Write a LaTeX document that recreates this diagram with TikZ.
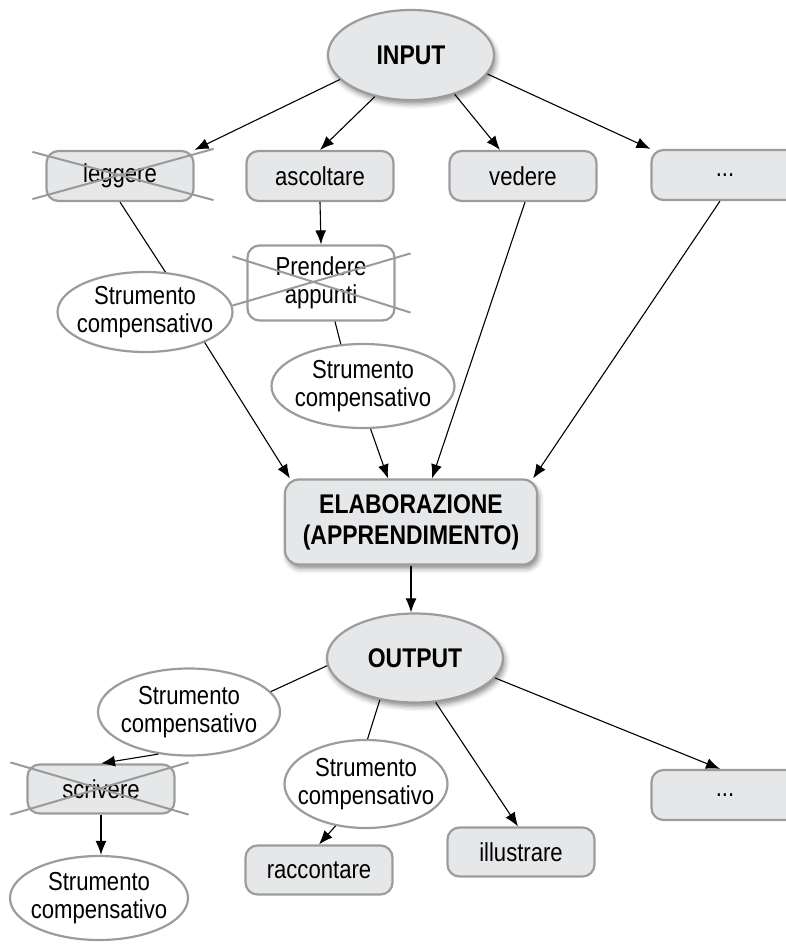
\documentclass[tikz,border=0pt]{standalone}
\usepackage{fontspec}
\setmainfont{Liberation Sans}[FakeStretch=0.85]
\usetikzlibrary{shapes.geometric,arrows.meta,shadows.blur,calc}
\definecolor{boxfill}{HTML}{E6E7E9}
\definecolor{boxline}{HTML}{9C9C9C}
\definecolor{crossgray}{HTML}{9A9A9A}

\begin{document}
\begin{tikzpicture}[x=1pt,y=-1pt,
  every node/.style={font=\fontsize{26}{28}\selectfont, align=center, inner sep=0pt},
  boxnode/.style={rectangle, rounded corners=12pt, draw=boxline, line width=2.2pt,
    fill=boxfill, minimum width=147pt, minimum height=50pt},
  toolnode/.style={ellipse, draw=boxline, line width=2.2pt, fill=white,
    inner xsep=-30pt, inner ysep=-6pt},
  bignode/.style={font=\fontsize{27}{31}\selectfont\bfseries,
    blur shadow={shadow xshift=2pt, shadow yshift=-4pt, shadow blur radius=5pt, shadow opacity=45}},
  link/.style={draw=black, line width=1.1pt},
  arrow/.style={link, -{Latex[length=14pt,width=11pt]}},
  strike/.style={draw=crossgray, line width=2pt},
]
\clip (0,0) rectangle (786,944);

% input side
\node[bignode, ellipse, draw=boxline, line width=2.2pt, fill=boxfill,
  minimum width=166pt, minimum height=90pt] (input) at (411,55) {INPUT};
\node[boxnode] (leggere) at (120,176) {leggere};
\node[boxnode] (ascoltare) at (320,176) {ascoltare};
\node[boxnode] (vedere) at (523,176) {vedere};
\node[boxnode] (dotsA) at (725,175) {...};
\node[boxnode, fill=white, minimum height=75pt] (prendere) at (321,283) {Prendere\\appunti};
\node[toolnode, minimum width=175pt, minimum height=80pt] (toolA) at (145,312) {Strumento\\compensativo};
\node[toolnode, minimum width=183pt, minimum height=84pt] (toolB) at (363,386) {Strumento\\compensativo};

% elaboration
\node[bignode, rectangle, rounded corners=14pt, draw=boxline, line width=2.2pt, fill=boxfill,
  minimum width=252pt, minimum height=85pt] (elab) at (411,522) {ELABORAZIONE\\(APPRENDIMENTO)};

% output side
\node[bignode, ellipse, draw=boxline, line width=2.2pt, fill=boxfill,
  minimum width=176pt, minimum height=89pt] (output) at (415,658) {OUTPUT};
\node[toolnode, minimum width=182pt, minimum height=87pt] (toolC) at (189,712) {Strumento\\compensativo};
\node[boxnode, minimum height=49pt] (scrivere) at (101,789) {scrivere};
\node[toolnode, minimum width=178pt, minimum height=84pt] (toolD) at (99,898) {Strumento\\compensativo};
\node[toolnode, minimum width=163pt, minimum height=88pt] (toolE) at (366,784) {Strumento\\compensativo};
\node[boxnode, minimum height=49pt] (raccontare) at (319,870) {raccontare};
\node[boxnode, minimum height=49pt] (illustrare) at (521,852) {illustrare};
\node[boxnode] (dotsB) at (725,795) {...};

% crossed-out activities
\draw[strike] ($(leggere.north west)+(-13,2)$) -- ($(leggere.south east)+(19,-2)$);
\draw[strike] ($(leggere.south west)+(-13,-3)$) -- ($(leggere.north east)+(19,-1)$);
\draw[strike] ($(prendere.north west)+(-14,12)$) -- ($(prendere.south east)+(15,-9)$);
\draw[strike] ($(prendere.south west)+(-14,-16)$) -- ($(prendere.north east)+(15,9)$);
\draw[strike] ($(scrivere.north west)+(-16,-1)$) -- ($(scrivere.south east)+(13,0)$);
\draw[strike] ($(scrivere.south west)+(-16,0)$) -- ($(scrivere.north east)+(13,-1)$);

% connectors: input
\draw[arrow] (input.199) -- (leggere.north east);
\draw[arrow] (input.229) -- (ascoltare.north);
\draw[arrow] (input.318) -- ([xshift=-23pt]vedere.north);
\draw[arrow] (input.346) -- (dotsA.north west);
\draw[link] (leggere.south) -- (toolA.63);
\draw[arrow] (toolA.-27) -- ([xshift=6pt]elab.north west);
\draw[arrow] (ascoltare.south) -- (prendere.north);
\draw[link] ([xshift=14pt]prendere.south) -- (toolB.118);
\draw[arrow] (toolB.-80) -- ([xshift=-23pt]elab.north);
\draw[arrow] ([xshift=2pt]vedere.south) -- ([xshift=21pt]elab.north);
\draw[arrow] ([xshift=-5pt]dotsA.south) -- ([xshift=-5pt]elab.north east);

% connectors: output
\draw[arrow] (elab.south) -- (elab.south |- output.north);
\draw[link] (output.185) -- (toolC.14);
\draw[arrow] (toolC.234) -- (scrivere.north);
\draw[arrow] (scrivere.south) -- (scrivere.south |- toolD.north);
\draw[link] (output.230) -- (toolE.88);
\draw[arrow] (toolE.234) -- (raccontare.north);
\draw[arrow] (output.-65) -- ([xshift=-3pt]illustrare.north);
\draw[arrow] (output.-14) -- ([xshift=-5pt]dotsB.north);
\end{tikzpicture}
\end{document}
